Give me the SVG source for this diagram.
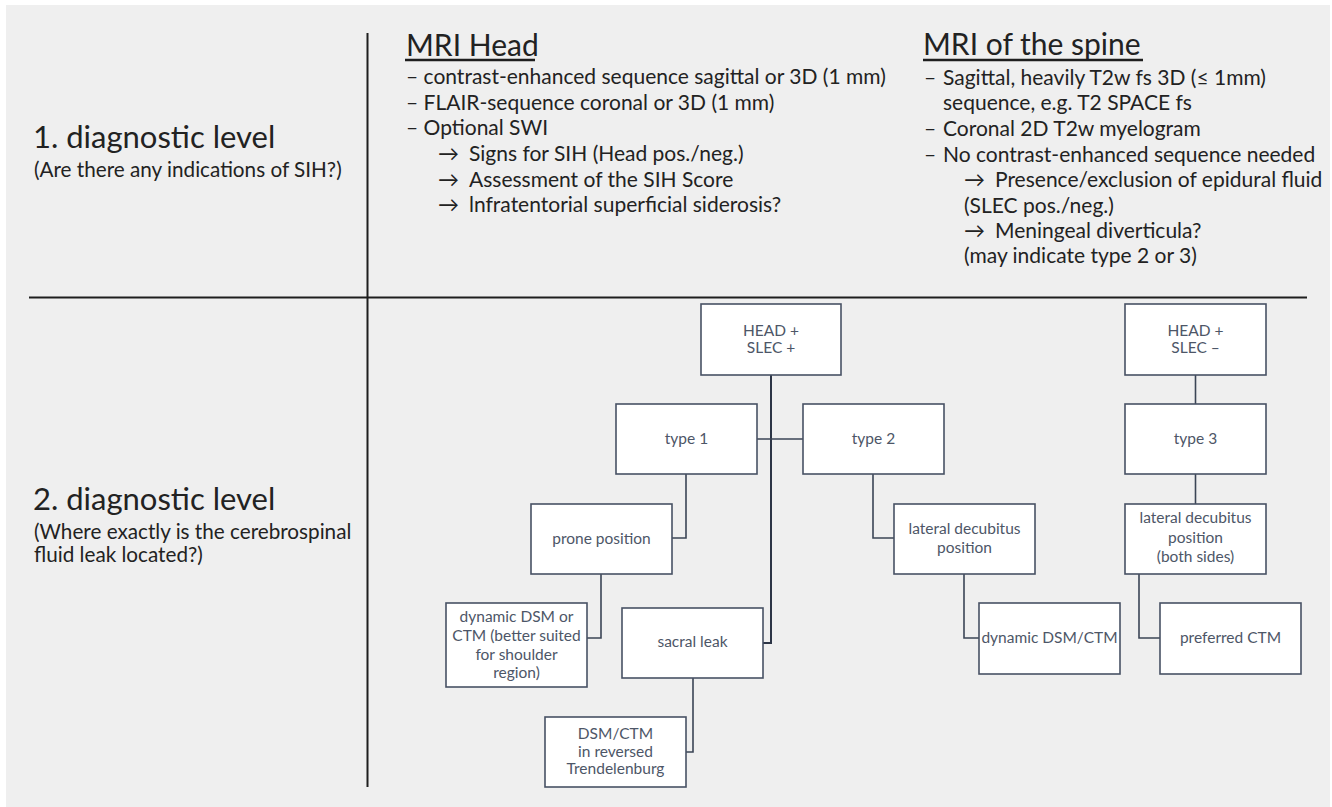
<svg xmlns="http://www.w3.org/2000/svg" width="1332" height="807" viewBox="0 0 1332 807">
<style>
.bg{fill:#efefef}
.div{stroke:#1e1e1e;stroke-width:2;fill:none}
.t{font-family:Lato,"Liberation Sans",sans-serif;fill:#222}
.lvl{font-size:31px}
.sub{font-size:20.7px}
.ttl{font-size:30px}
.li{font-size:21px}
.box{fill:#fff;stroke:#485264;stroke-width:1.6}
.bt{font-family:Lato,"Liberation Sans",sans-serif;font-size:15.5px;fill:#4d5667;text-anchor:middle}
.c{stroke:#3b4556;stroke-width:1.6;fill:none}
.trunk{stroke:#2c3546;stroke-width:2}
</style>
<rect class="bg" x="6" y="5" width="1324" height="802"/>
<g id="dividers">
<line class="div" x1="367.5" y1="33" x2="367.5" y2="787"/>
<line class="div" x1="29" y1="297.5" x2="1307" y2="297.5"/>
</g>
<g id="level1">
<text class="t lvl" x="33" y="148">1. diagnostic level</text>
<text class="t sub" x="34" y="177">(Are there any indications of SIH?)</text>
</g>
<g id="level2">
<text class="t lvl" x="33" y="510">2. diagnostic level</text>
<text class="t sub" x="34" y="539">(Where exactly is the cerebrospinal</text>
<text class="t sub" x="34" y="561.5">fluid leak located?)</text>
</g>
<g id="mri-head">
<text class="t ttl" x="406" y="56">MRI Head</text>
<line x1="405" y1="60" x2="535" y2="60" stroke="#1e1e1e" stroke-width="2.5"/>
<text class="t li" x="406" y="84">– contrast-enhanced sequence sagittal or 3D (1 mm)</text>
<text class="t li" x="406" y="110">– FLAIR-sequence coronal or 3D (1 mm)</text>
<text class="t li" x="406" y="135">– Optional SWI</text>
<text class="t li" x="438" y="161">→</text><text class="t li" x="469" y="161">Signs for SIH (Head pos./neg.)</text>
<text class="t li" x="438" y="187">→</text><text class="t li" x="469" y="187">Assessment of the SIH Score</text>
<text class="t li" x="438" y="212">→</text><text class="t li" x="469" y="212">lnfratentorial superficial siderosis?</text>
</g>
<g id="mri-spine">
<text class="t ttl" x="923" y="55">MRI of the spine</text>
<line x1="923" y1="60" x2="1143" y2="60" stroke="#1e1e1e" stroke-width="2.5"/>
<text class="t li" x="924" y="85">–</text><text class="t li" x="943" y="85">Sagittal, heavily T2w fs 3D (≤ 1mm)</text>
<text class="t li" x="943" y="110">sequence, e.g. T2 SPACE fs</text>
<text class="t li" x="924" y="136">–</text><text class="t li" x="943" y="136">Coronal 2D T2w myelogram</text>
<text class="t li" x="924" y="162">–</text><text class="t li" x="943" y="162">No contrast-enhanced sequence needed</text>
<text class="t li" x="964" y="187">→</text><text class="t li" x="995" y="187">Presence/exclusion of epidural fluid</text>
<text class="t li" x="964" y="213">(SLEC pos./neg.)</text>
<text class="t li" x="964" y="238">→</text><text class="t li" x="995" y="238">Meningeal diverticula?</text>
<text class="t li" x="964" y="263">(may indicate type 2 or 3)</text>
</g>
<g id="connectors">
<path class="c trunk" d="M771,375 V643 H763"/>
<path class="c" d="M757,439 H803"/>
<path class="c" d="M686,474 V538 H672"/>
<path class="c" d="M601,574 V638 H587"/>
<path class="c" d="M693,678 V752 H686"/>
<path class="c" d="M873,474 V538 H894"/>
<path class="c" d="M964,574 V638 H979"/>
<path class="c" d="M1195.5,375 V404"/>
<path class="c" d="M1195.5,474 V504"/>
<path class="c" d="M1139,574 V638 H1160"/>
</g>
<g id="head-slec-pos">
<rect class="box" x="701" y="304" width="140" height="71"/>
<text class="bt" x="771" y="336">HEAD +</text>
<text class="bt" x="771" y="353">SLEC +</text>
</g>
<g id="type1">
<rect class="box" x="616" y="404" width="141" height="70"/>
<text class="bt" x="686.5" y="444">type 1</text>
</g>
<g id="type2">
<rect class="box" x="803" y="404" width="141" height="70"/>
<text class="bt" x="873.5" y="444">type 2</text>
</g>
<g id="prone">
<rect class="box" x="531" y="504" width="141" height="70"/>
<text class="bt" x="601.5" y="544">prone position</text>
</g>
<g id="dyn-dsm-ctm-shoulder">
<rect class="box" x="446" y="603" width="141" height="84"/>
<text class="bt" x="516.5" y="622">dynamic DSM or</text>
<text class="bt" x="516.5" y="641">CTM (better suited</text>
<text class="bt" x="516.5" y="660">for shoulder</text>
<text class="bt" x="516.5" y="678">region)</text>
</g>
<g id="sacral-leak">
<rect class="box" x="622" y="608" width="141" height="70"/>
<text class="bt" x="692.5" y="647">sacral leak</text>
</g>
<g id="dsm-ctm-trendelenburg">
<rect class="box" x="545" y="717" width="141" height="70"/>
<text class="bt" x="615.5" y="739">DSM/CTM</text>
<text class="bt" x="615.5" y="756.5">in reversed</text>
<text class="bt" x="615.5" y="773.5">Trendelenburg</text>
</g>
<g id="lateral-decubitus">
<rect class="box" x="894" y="504" width="141" height="70"/>
<text class="bt" x="964.5" y="533.5">lateral decubitus</text>
<text class="bt" x="964.5" y="552.5">position</text>
</g>
<g id="dynamic-dsm-ctm">
<rect class="box" x="979" y="603" width="141" height="71"/>
<text class="bt" x="1049.5" y="643">dynamic DSM/CTM</text>
</g>
<g id="head-slec-neg">
<rect class="box" x="1125" y="304" width="141" height="71"/>
<text class="bt" x="1195.5" y="336">HEAD +</text>
<text class="bt" x="1195.5" y="353">SLEC –</text>
</g>
<g id="type3">
<rect class="box" x="1125" y="404" width="141" height="70"/>
<text class="bt" x="1195.5" y="444">type 3</text>
</g>
<g id="lateral-decubitus-both">
<rect class="box" x="1125" y="504" width="141" height="70"/>
<text class="bt" x="1195.5" y="523">lateral decubitus</text>
<text class="bt" x="1195.5" y="542.5">position</text>
<text class="bt" x="1195.5" y="562">(both sides)</text>
</g>
<g id="preferred-ctm">
<rect class="box" x="1160" y="603" width="141" height="71"/>
<text class="bt" x="1230.5" y="643">preferred CTM</text>
</g>
</svg>
